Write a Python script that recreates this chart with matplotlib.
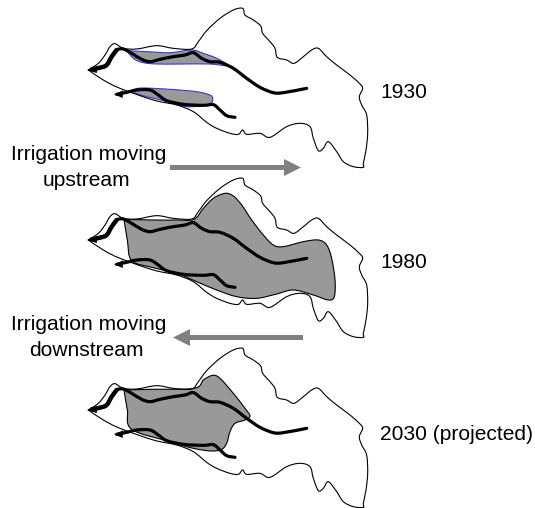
import matplotlib
matplotlib.use('Agg')
import matplotlib.pyplot as plt
from matplotlib.path import Path
from matplotlib.patches import PathPatch, Polygon, FancyArrow

plt.rcParams['font.family'] = ['Liberation Sans', 'DejaVu Sans']

# shapes, in 3x pixels of the top panel
basin = [(55, 210), (85, 190), (105, 165), (120, 140), (135, 131), (160, 145), (200, 147), (260, 137),
         (310, 145), (365, 147), (385, 125), (410, 92), (450, 55), (490, 30), (518, 25), (525, 45),
         (550, 60), (572, 78), (578, 100), (600, 125), (615, 145), (622, 172), (650, 180), (672, 190),
         (700, 170), (725, 150), (745, 145), (770, 170), (800, 195), (840, 225), (868, 250), (878, 265),
         (868, 290), (875, 315), (890, 345), (893, 400), (888, 450), (880, 490), (880, 502), (850, 500),
         (820, 485), (800, 455), (775, 425), (760, 445), (745, 452), (730, 415), (720, 380), (690, 370),
         (650, 380), (600, 412), (570, 400), (530, 403), (518, 390), (505, 403), (480, 400), (440, 385),
         (410, 367), (370, 335), (320, 315), (250, 300), (150, 265), (100, 240), (55, 210)]
main_river = [(65, 208), (90, 203), (110, 195), (125, 170), (140, 150), (160, 147), (185, 160), (215, 178),
              (240, 185), (270, 178), (310, 170), (345, 165), (370, 158), (395, 175), (420, 185), (450, 187),
              (490, 205), (530, 235), (570, 262), (610, 278), (640, 278), (710, 265)]
side_river = [(140, 283), (170, 277), (200, 270), (240, 270), (265, 285), (290, 302), (340, 313), (400, 316),
              (430, 314), (450, 330), (470, 347), (495, 352)]
river_mouth = main_river[:5]

area_1930_a = [(170, 152), (230, 155), (300, 158), (365, 150), (400, 160), (440, 175), (475, 197), (420, 192),
               (340, 192), (260, 192), (215, 187), (190, 175)]
area_1930_b = [(190, 270), (215, 264), (300, 268), (380, 275), (420, 285), (428, 295), (425, 308), (405, 316),
               (350, 320), (300, 306), (230, 290), (190, 277)]
area_1980 = [(162, 148), (250, 150), (320, 150), (372, 148), (400, 115), (430, 85), (465, 70), (490, 78),
             (515, 105), (545, 150), (580, 195), (610, 225), (640, 230), (700, 215), (745, 210), (770, 225),
             (785, 265), (795, 330), (793, 380), (775, 390), (730, 375), (670, 360), (620, 372), (560, 385),
             (500, 380), (440, 360), (380, 335), (320, 310), (250, 293), (185, 272), (172, 210)]
area_2030 = [(162, 150), (240, 148), (372, 145), (400, 120), (428, 106), (450, 115), (490, 160), (525, 205),
             (540, 228), (525, 240), (495, 250), (480, 275), (470, 310), (455, 328), (425, 333), (370, 325),
             (300, 305), (185, 268), (172, 210)]

panel_offsets = [0, 170, 340]
year_labels = ['1930', '1980', '2030 (projected)']
year_y = [92, 263, 434]

GREY = '#999999'
ARROW = '#808080'
FONT = 15.1


def px(points, dy):
    return [(70 + x / 3, y / 3 + dy) for x, y in points]


def smooth(points):
    # bezier segments that pass through every traced point
    verts = [points[0]]
    codes = [Path.MOVETO]
    n = len(points)
    for i in range(n - 1):
        p0 = points[max(i - 1, 0)]
        p1 = points[i]
        p2 = points[i + 1]
        p3 = points[min(i + 2, n - 1)]
        c1 = (p1[0] + (p2[0] - p0[0]) / 6, p1[1] + (p2[1] - p0[1]) / 6)
        c2 = (p2[0] - (p3[0] - p1[0]) / 6, p2[1] - (p3[1] - p1[1]) / 6)
        verts += [c1, c2, p2]
        codes += [Path.CURVE4, Path.CURVE4, Path.CURVE4]
    return Path(verts, codes)


def draw_curve(ax, points, dy, **kw):
    ax.add_patch(PathPatch(smooth(px(points, dy)), fill=False, capstyle='round', joinstyle='round', **kw))


def draw_area(ax, points, dy, edge):
    closed = points + [points[0]]
    ax.add_patch(PathPatch(smooth(px(closed, dy)), facecolor=GREY, edgecolor=edge, lw=0.8))


fig = plt.figure(figsize=(5.35, 5.08), dpi=100)
ax = fig.add_axes([0, 0, 1, 1])
ax.set_xlim(0, 535)
ax.set_ylim(508, 0)
ax.axis('off')

draw_area(ax, area_1930_a, panel_offsets[0], '#3a3ad0')
draw_area(ax, area_1930_b, panel_offsets[0], '#3a3ad0')
draw_area(ax, area_1980, panel_offsets[1], 'black')
draw_area(ax, area_2030, panel_offsets[2], 'black')

for dy, label, y in zip(panel_offsets, year_labels, year_y):
    draw_curve(ax, basin, dy, edgecolor='black', lw=0.8)
    draw_curve(ax, main_river, dy, edgecolor='black', lw=2.3)
    draw_curve(ax, river_mouth, dy, edgecolor='black', lw=3.2)
    draw_curve(ax, side_river, dy, edgecolor='black', lw=2.3)
    ax.add_patch(Polygon(px([(51, 210), (84, 198), (80, 219)], dy), color='black', lw=0))
    ax.add_patch(Polygon(px([(132, 283), (160, 271), (158, 294)], dy), color='black', lw=0))
    ax.text(380, y, label, fontsize=FONT, va='center', ha='left', color='black')

ax.add_patch(FancyArrow(170, 167.5, 131, 0, width=5, head_width=17, head_length=17,
                        length_includes_head=True, color=ARROW, lw=0))
ax.add_patch(FancyArrow(303, 337.5, -130, 0, width=5, head_width=17, head_length=17,
                        length_includes_head=True, color=ARROW, lw=0))

ax.text(89, 155, 'Irrigation moving', fontsize=FONT, va='center', ha='center')
ax.text(86, 180, 'upstream', fontsize=FONT, va='center', ha='center')
ax.text(89, 325, 'Irrigation moving', fontsize=FONT, va='center', ha='center')
ax.text(86, 350, 'downstream', fontsize=FONT, va='center', ha='center')

fig.savefig('out.png', dpi=100)
plt.close(fig)
